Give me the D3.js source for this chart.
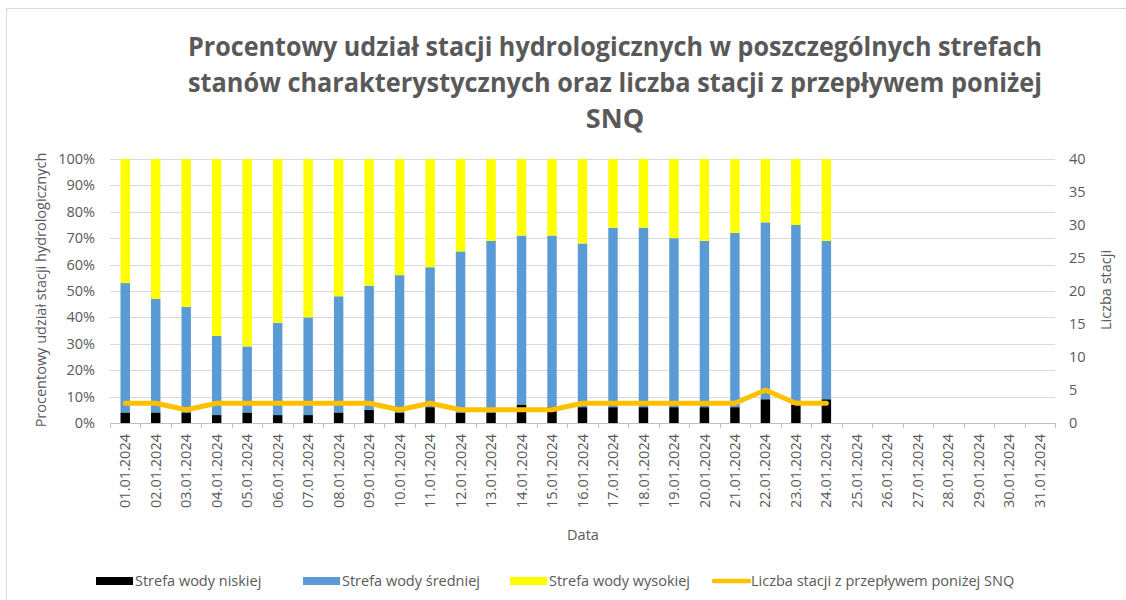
<!DOCTYPE html>
<html>
<head>
<meta charset="utf-8">
<script src="https://cdn.jsdelivr.net/npm/d3@7"></script>
<style>
  body { margin: 0; background: #fff; }
  text { font-family: "Open Sans", sans-serif; fill: #595959; }
</style>
</head>
<body>
<svg id="chart" width="1126" height="600"></svg>
<script>
// categories - all days of January 2024
const dates = [
  "01.01.2024", "02.01.2024", "03.01.2024", "04.01.2024", "05.01.2024", "06.01.2024",
  "07.01.2024", "08.01.2024", "09.01.2024", "10.01.2024", "11.01.2024", "12.01.2024",
  "13.01.2024", "14.01.2024", "15.01.2024", "16.01.2024", "17.01.2024", "18.01.2024",
  "19.01.2024", "20.01.2024", "21.01.2024", "22.01.2024", "23.01.2024", "24.01.2024",
  "25.01.2024", "26.01.2024", "27.01.2024", "28.01.2024", "29.01.2024", "30.01.2024",
  "31.01.2024"
];

// % of stations per zone (only first 24 days have data)
const niska   = [4, 4, 4, 3, 4, 3, 3, 4, 5, 4, 6, 4, 4, 7, 6, 6, 6, 6, 6, 6, 6, 9, 7, 9];
const srednia = [49, 43, 40, 30, 25, 35, 37, 44, 47, 52, 53, 61, 65, 64, 65, 62, 68, 68, 64, 63, 66, 67, 68, 60];
const wysoka  = [47, 53, 56, 67, 71, 62, 60, 52, 48, 44, 41, 35, 31, 29, 29, 32, 26, 26, 30, 31, 28, 24, 25, 31];

// number of stations with flow below SNQ
const ponizejSNQ = [3, 3, 2, 3, 3, 3, 3, 3, 3, 2, 3, 2, 2, 2, 2, 3, 3, 3, 3, 3, 3, 5, 3, 3];

const leftTicks = [0, 10, 20, 30, 40, 50, 60, 70, 80, 90, 100];
const rightTicks = [0, 5, 10, 15, 20, 25, 30, 35, 40];

const keys = ["niska", "srednia", "wysoka"];
const colors = { niska: "#000000", srednia: "#5b9bd5", wysoka: "#ffff00" };
const legendItems = [
  { label: "Strefa wody niskiej", color: "#000000", type: "rect", x: 96 },
  { label: "Strefa wody średniej", color: "#5b9bd5", type: "rect", x: 303 },
  { label: "Strefa wody wysokiej", color: "#ffff00", type: "rect", x: 510 },
  { label: "Liczba stacji z przepływem poniżej SNQ", color: "#ffc000", type: "line", x: 712 }
];

const svg = d3.select("#chart");

// outer frame
svg.append("rect")
  .attr("x", 6.5).attr("y", 8.5)
  .attr("width", 1130).attr("height", 600)
  .attr("fill", "none").attr("stroke", "#d9d9d9");

const plotLeft = 110, plotRight = 1055, plotTop = 159, plotBottom = 423;

const x = d3.scaleBand()
  .domain(dates)
  .range([plotLeft, plotRight])
  .paddingInner(0.69)
  .paddingOuter(0.345);

const y = d3.scaleLinear().domain([0, 100]).range([plotBottom, plotTop]);
const y2 = d3.scaleLinear().domain([0, 40]).range([plotBottom, plotTop]);

// gridlines
svg.append("g")
  .selectAll("line")
  .data(leftTicks.filter(d => d > 0))
  .enter()
  .append("line")
  .attr("x1", plotLeft).attr("x2", plotRight)
  .attr("y1", d => Math.round(y(d)) + 0.5)
  .attr("y2", d => Math.round(y(d)) + 0.5)
  .attr("stroke", "#d9d9d9");

// left axis labels
svg.append("g")
  .selectAll("text")
  .data(leftTicks)
  .enter()
  .append("text")
  .attr("x", 95)
  .attr("y", d => y(d))
  .attr("dy", "0.35em")
  .attr("text-anchor", "end")
  .style("font-size", "14.5px")
  .text(d => d + "%");

// right axis labels
svg.append("g")
  .selectAll("text")
  .data(rightTicks)
  .enter()
  .append("text")
  .attr("x", 1069)
  .attr("y", d => y2(d))
  .attr("dy", "0.35em")
  .style("font-size", "14.5px")
  .text(d => d);

// build table for stack
const table = niska.map((v, i) => ({
  date: dates[i],
  niska: v,
  srednia: srednia[i],
  wysoka: wysoka[i]
}));

const series = d3.stack().keys(keys)(table);

svg.append("g")
  .selectAll("g")
  .data(series)
  .enter()
  .append("g")
  .attr("fill", d => colors[d.key])
  .selectAll("rect")
  .data(d => d)
  .enter()
  .append("rect")
  .attr("x", d => x(d.data.date))
  .attr("width", x.bandwidth())
  .attr("y", d => y(d[1]))
  .attr("height", d => y(d[0]) - y(d[1]));

// x axis line + ticks at category boundaries
const step = x.step();
const boundaries = dates.map(d => x(d) + x.bandwidth() / 2 - step / 2);
boundaries.push(plotRight);

svg.append("line")
  .attr("x1", plotLeft).attr("x2", plotRight)
  .attr("y1", plotBottom + 0.5).attr("y2", plotBottom + 0.5)
  .attr("stroke", "#bfbfbf");

svg.append("g")
  .selectAll("line")
  .data(boundaries)
  .enter()
  .append("line")
  .attr("x1", d => Math.round(d) + 0.5).attr("x2", d => Math.round(d) + 0.5)
  .attr("y1", plotBottom).attr("y2", plotBottom + 5)
  .attr("stroke", "#bfbfbf");

// x labels (rotated)
svg.append("g")
  .selectAll("text")
  .data(dates)
  .enter()
  .append("text")
  .attr("transform", d => "translate(" + (x(d) + x.bandwidth() / 2) + ",434) rotate(-90)")
  .attr("text-anchor", "end")
  .attr("dy", "0.35em")
  .style("font-size", "14.5px")
  .text(d => d);

// line - stations below SNQ
const line = d3.line()
  .x((d, i) => x(dates[i]) + x.bandwidth() / 2)
  .y(d => y2(d));

svg.append("path")
  .datum(ponizejSNQ)
  .attr("d", line)
  .attr("fill", "none")
  .attr("stroke", "#ffc000")
  .attr("stroke-width", 5)
  .attr("stroke-linejoin", "round")
  .attr("stroke-linecap", "round");

// title
const titleLines = [
  "Procentowy udział stacji hydrologicznych w poszczególnych strefach",
  "stanów charakterystycznych oraz liczba stacji z przepływem poniżej",
  "SNQ"
];
svg.append("g")
  .selectAll("text")
  .data(titleLines)
  .enter()
  .append("text")
  .attr("x", 615)
  .attr("y", (d, i) => 56 + i * 36)
  .attr("text-anchor", "middle")
  .style("font-size", "27px")
  .style("font-weight", "bold")
  .attr("textLength", (d, i) => i < 2 ? 854 : null)
  .attr("lengthAdjust", "spacingAndGlyphs")
  .text(d => d);

// axis titles
svg.append("text")
  .attr("transform", "translate(46,290) rotate(-90)")
  .attr("text-anchor", "middle")
  .style("font-size", "14.5px")
  .text("Procentowy udział stacji hydrologicznych");

svg.append("text")
  .attr("transform", "translate(1111,290) rotate(-90)")
  .attr("text-anchor", "middle")
  .style("font-size", "14.5px")
  .text("Liczba stacji");

svg.append("text")
  .attr("x", 583)
  .attr("y", 540)
  .attr("text-anchor", "middle")
  .style("font-size", "14.5px")
  .text("Data");

// legend
const legend = svg.append("g")
  .selectAll("g")
  .data(legendItems)
  .enter()
  .append("g")
  .attr("transform", d => "translate(" + d.x + ",0)");

legend.filter(d => d.type === "rect")
  .append("rect")
  .attr("x", 0).attr("y", 577)
  .attr("width", 37).attr("height", 8)
  .attr("fill", d => d.color);

legend.filter(d => d.type === "line")
  .append("line")
  .attr("x1", 2).attr("x2", 37)
  .attr("y1", 581).attr("y2", 581)
  .attr("stroke", d => d.color)
  .attr("stroke-width", 4.5)
  .attr("stroke-linecap", "round");

legend.append("text")
  .attr("x", 39)
  .attr("y", 581)
  .attr("dy", "0.35em")
  .style("font-size", "14.5px")
  .text(d => d.label);
</script>
</body>
</html>
